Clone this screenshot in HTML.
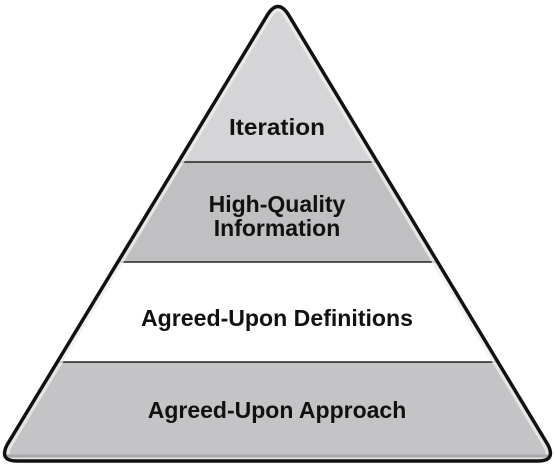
<!DOCTYPE html>
<html><head><style>
html,body{margin:0;padding:0;background:#fff;width:555px;height:465px;overflow:hidden}
text{font-family:"Liberation Sans",sans-serif;font-weight:bold;font-size:23px;fill:#111;text-anchor:middle}
</style></head><body>
<svg width="555" height="465" viewBox="0 0 555 465">
<defs>
<clipPath id="c"><path d="M268,14 Q278,-1 288,14 L548,445 Q556,461 538,461 L17,461 Q-1,461 7,445 Z"/></clipPath>
</defs>
<g clip-path="url(#c)">
<rect x="0" y="0" width="555" height="162" fill="#d5d5d7"/>
<rect x="0" y="162" width="555" height="100" fill="#c0c0c2"/>
<rect x="0" y="262" width="555" height="100" fill="#ffffff"/>
<rect x="0" y="362" width="555" height="103" fill="#c4c4c6"/>
<line x1="0" y1="162" x2="555" y2="162" stroke="#222" stroke-width="1.5"/>
<line x1="0" y1="262" x2="555" y2="262" stroke="#222" stroke-width="1.5"/>
<line x1="0" y1="362" x2="555" y2="362" stroke="#222" stroke-width="1.5"/>
<path d="M268,14 Q278,-1 288,14 L548,445 Q556,461 538,461 L17,461 Q-1,461 7,445 Z" fill="none" stroke="#eeeeee" stroke-width="10" opacity="0.8"/>
<line x1="0" y1="456" x2="555" y2="456" stroke="#a8a8aa" stroke-width="3"/>
</g>
<path d="M268,14 Q278,-1 288,14 L548,445 Q556,461 538,461 L17,461 Q-1,461 7,445 Z" fill="none" stroke="#111" stroke-width="3.5"/>
<text x="277" y="135" textLength="96" lengthAdjust="spacingAndGlyphs">Iteration</text>
<text x="277" y="212">High-Quality</text>
<text x="277" y="236">Information</text>
<text x="277" y="326" textLength="272" lengthAdjust="spacingAndGlyphs">Agreed-Upon Definitions</text>
<text x="277" y="418">Agreed-Upon Approach</text>
</svg>
</body></html>
